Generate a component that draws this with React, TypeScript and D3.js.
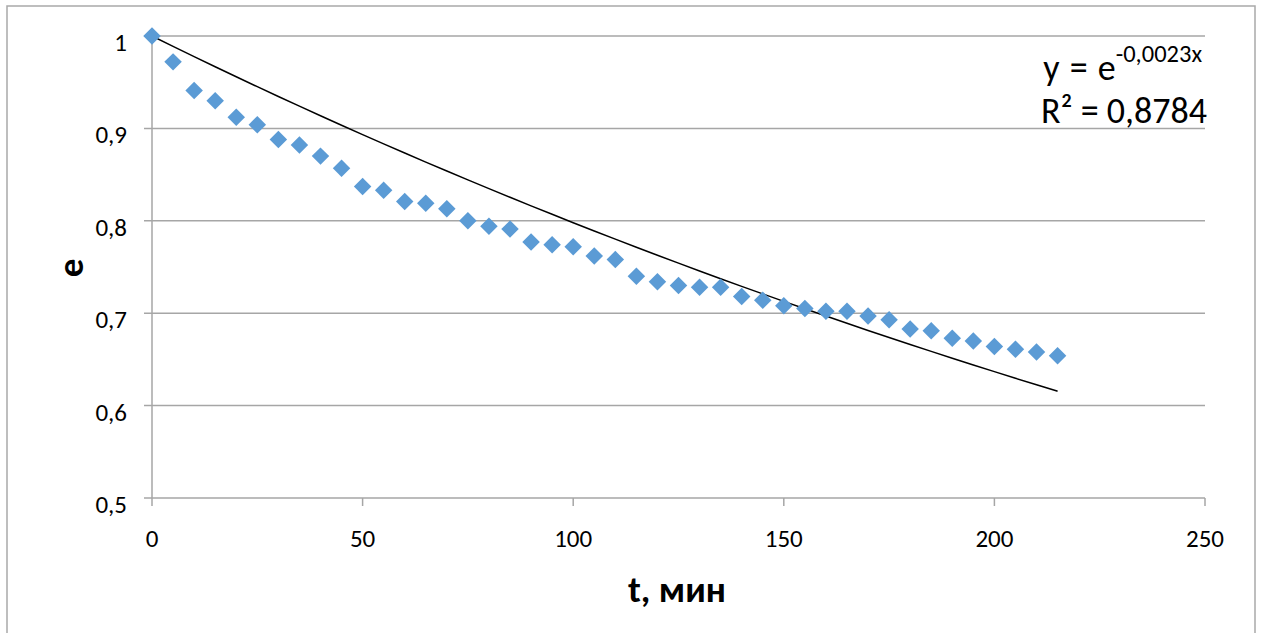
import * as d3 from "d3";
import { useEffect, useRef } from "react";

// time, minutes
const times = [
  0, 5, 10, 15, 20, 25, 30, 35, 40, 45, 50, 55, 60, 65, 70, 75, 80, 85, 90, 95,
  100, 105, 110, 115, 120, 125, 130, 135, 140, 145, 150, 155, 160, 165, 170,
  175, 180, 185, 190, 195, 200, 205, 210, 215,
];
// e values
const eValues = [
  1.0, 0.972, 0.941, 0.93, 0.912, 0.904, 0.888, 0.882, 0.87, 0.857, 0.837,
  0.833, 0.821, 0.819, 0.813, 0.8, 0.794, 0.791, 0.777, 0.774, 0.772, 0.762,
  0.758, 0.74, 0.734, 0.73, 0.728, 0.728, 0.718, 0.714, 0.708, 0.705, 0.702,
  0.702, 0.697, 0.693, 0.683, 0.681, 0.673, 0.67, 0.664, 0.661, 0.658, 0.654,
];
const xTicks = [0, 50, 100, 150, 200, 250];
const yTicks = [0.5, 0.6, 0.7, 0.8, 0.9, 1];
const eqLabel = "-0,0023x";
const r2Label = "R² = 0,8784";

const W = 1262;
const H = 633;
const FONT = "Carlito, Calibri, 'Open Sans', sans-serif";
const GRID = "#a6a6a6";

const fmt = (v) => (v === 1 ? "1" : String(v).replace(".", ","));

const App = () => {
  const ref = useRef(null);

  useEffect(() => {
    const svg = d3.select(ref.current);
    svg.selectAll("*").remove();

    const x = d3.scaleLinear().domain([0, 250]).range([152, 1205]);
    const y = d3.scaleLinear().domain([0.5, 1]).range([498, 36]);

    // outer frame
    svg
      .append("rect")
      .attr("x", 7)
      .attr("y", 6)
      .attr("width", 1248)
      .attr("height", 700)
      .attr("fill", "white")
      .attr("stroke", "#a9a9a9")
      .attr("stroke-width", 1.5);

    // horizontal gridlines + y ticks
    svg
      .append("g")
      .selectAll("line")
      .data(yTicks)
      .enter()
      .append("line")
      .attr("x1", 144)
      .attr("x2", x(250))
      .attr("y1", (d) => y(d))
      .attr("y2", (d) => y(d))
      .attr("stroke", GRID)
      .attr("stroke-width", 1.5);

    // y axis line
    svg
      .append("line")
      .attr("x1", x(0))
      .attr("x2", x(0))
      .attr("y1", y(1))
      .attr("y2", y(0.5) + 8)
      .attr("stroke", GRID)
      .attr("stroke-width", 1.5);

    // x ticks
    svg
      .append("g")
      .selectAll("line")
      .data(xTicks.slice(1))
      .enter()
      .append("line")
      .attr("x1", (d) => x(d))
      .attr("x2", (d) => x(d))
      .attr("y1", y(0.5))
      .attr("y2", y(0.5) + 8)
      .attr("stroke", GRID)
      .attr("stroke-width", 1.5);

    // tick labels
    svg
      .append("g")
      .selectAll("text")
      .data(yTicks)
      .enter()
      .append("text")
      .attr("x", 127)
      .attr("y", (d) => y(d) + 15)
      .attr("text-anchor", "end")
      .attr("font-family", FONT)
      .attr("font-size", 25)
      .text((d) => fmt(d));

    svg
      .append("g")
      .selectAll("text")
      .data(xTicks)
      .enter()
      .append("text")
      .attr("x", (d) => x(d))
      .attr("y", 547)
      .attr("text-anchor", "middle")
      .attr("font-family", FONT)
      .attr("font-size", 25)
      .text((d) => d);

    // axis titles
    svg
      .append("text")
      .attr("x", 677)
      .attr("y", 602)
      .attr("text-anchor", "middle")
      .attr("font-family", FONT)
      .attr("font-weight", "bold")
      .attr("font-size", 37)
      .text("t, мин");

    svg
      .append("text")
      .attr("transform", "translate(83,268) rotate(-90)")
      .attr("text-anchor", "middle")
      .attr("font-family", FONT)
      .attr("font-weight", "bold")
      .attr("font-size", 37)
      .text("e");

    // exponential trendline, least squares on ln(e) through (0,1)
    const pts = times.map((t, i) => [t, eValues[i]]);
    const b =
      d3.sum(pts, (p) => p[0] * Math.log(p[1])) / d3.sum(pts, (p) => p[0] * p[0]);
    const trend = times.map((t) => [t, Math.exp(b * t)]);
    const line = d3
      .line()
      .x((d) => x(d[0]))
      .y((d) => y(d[1]))
      .curve(d3.curveMonotoneX);
    svg
      .append("path")
      .attr("d", line(trend))
      .attr("fill", "none")
      .attr("stroke", "black")
      .attr("stroke-width", 1.5);

    // markers
    const diamond = d3.symbol().type(d3.symbolDiamond2).size(195);
    svg
      .append("g")
      .selectAll("path")
      .data(pts)
      .enter()
      .append("path")
      .attr("d", diamond)
      .attr("transform", (d) => `translate(${x(d[0])},${y(d[1])})`)
      .attr("fill", "#5b9bd5");

    // equation
    const eq = svg
      .append("text")
      .attr("x", 1202)
      .attr("y", 80)
      .attr("text-anchor", "end")
      .attr("font-family", FONT)
      .attr("font-size", 36)
      .attr("word-spacing", 2);
    eq.append("tspan").text("y = e");
    eq.append("tspan")
      .attr("dy", -18)
      .attr("font-size", 24.5)
      .text(eqLabel);

    svg
      .append("text")
      .attr("x", 1207)
      .attr("y", 123)
      .attr("text-anchor", "end")
      .attr("font-family", FONT)
      .attr("font-size", 36)
      .text(r2Label);
  }, []);

  return (
    <svg
      ref={ref}
      width={W}
      height={H}
      style={{ position: "absolute", left: 0, top: 0, background: "white" }}
    />
  );
};

export default App;
